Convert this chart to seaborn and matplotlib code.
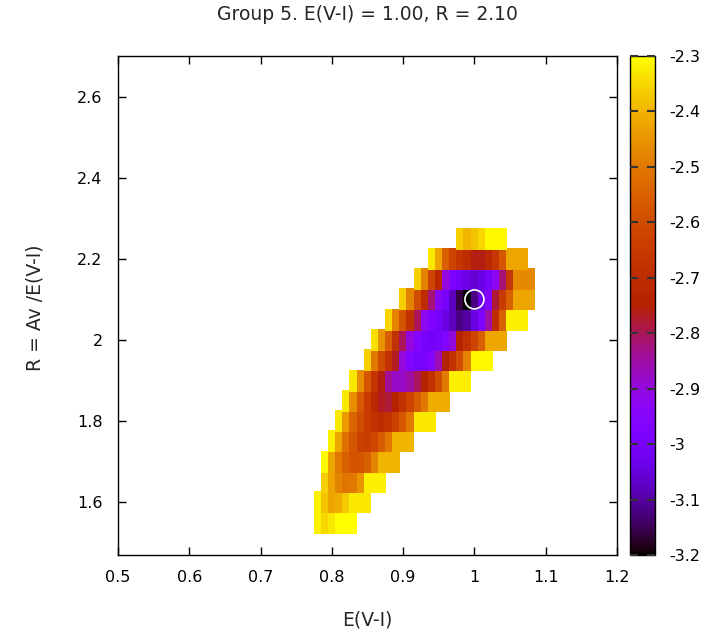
import numpy as np
import pandas as pd
import matplotlib
matplotlib.use("Agg")
import matplotlib.pyplot as plt
import seaborn as sns
from matplotlib.ticker import FuncFormatter
from matplotlib.colors import Normalize
from matplotlib.cm import ScalarMappable

# ---- grid of fitted values: one list per R row, E(V-I) grows by 0.01 along a row ----
r_rows = [1.55, 1.60, 1.65, 1.70, 1.75, 1.80, 1.85, 1.90, 1.95,
          2.00, 2.05, 2.10, 2.15, 2.20, 2.25]
e_first = [0.79, 0.79, 0.80, 0.80, 0.81, 0.82, 0.83, 0.84, 0.86,
           0.87, 0.89, 0.91, 0.93, 0.95, 0.99]
e_step = 0.01

row_155 = [-2.32, -2.35, -2.33, -2.30]
row_160 = [-2.32, -2.38, -2.42, -2.41, -2.37, -2.33]
row_165 = [-2.36, -2.43, -2.48, -2.51, -2.50, -2.45, -2.32]
row_170 = [-2.31, -2.42, -2.50, -2.55, -2.58, -2.58, -2.55, -2.48, -2.40]
row_175 = [-2.32, -2.42, -2.52, -2.58, -2.63, -2.64, -2.61, -2.56, -2.50, -2.40]
row_180 = [-2.33, -2.44, -2.54, -2.60, -2.65, -2.68, -2.70, -2.68, -2.63, -2.57,
           -2.50, -2.33]
row_185 = [-2.33, -2.46, -2.57, -2.65, -2.72, -2.77, -2.78, -2.74, -2.68, -2.62,
           -2.56, -2.50, -2.41]
row_190 = [-2.33, -2.46, -2.58, -2.67, -2.76, -2.84, -2.88, -2.88, -2.85, -2.80,
           -2.74, -2.68, -2.60, -2.50, -2.32]
row_195 = [-2.36, -2.50, -2.60, -2.68, -2.77, -2.90, -2.97, -3.00, -2.99, -2.96,
           -2.86, -2.75, -2.68, -2.60, -2.48, -2.31]
row_200 = [-2.34, -2.45, -2.56, -2.68, -2.80, -2.90, -2.96, -3.00, -3.01, -3.00,
           -2.97, -2.90, -2.74, -2.68, -2.62, -2.55, -2.42]
row_205 = [-2.35, -2.48, -2.58, -2.68, -2.80, -2.92, -2.98, -3.00, -3.04, -3.08,
           -3.12, -3.10, -3.04, -2.98, -2.85, -2.70, -2.55, -2.32]
row_210 = [-2.36, -2.48, -2.60, -2.70, -2.82, -2.94, -3.00, -3.08, -3.16, -3.20,
           -3.12, -3.04, -2.96, -2.78, -2.65, -2.55, -2.42]
row_215 = [-2.36, -2.48, -2.62, -2.72, -2.90, -2.98, -3.01, -3.04, -3.06, -3.04,
           -3.00, -2.93, -2.82, -2.66, -2.47]
row_220 = [-2.33, -2.42, -2.55, -2.62, -2.67, -2.70, -2.76, -2.76, -2.72, -2.66,
           -2.58, -2.42]
row_225 = [-2.36, -2.40, -2.38, -2.35, -2.31]

row_values = [row_155, row_160, row_165, row_170, row_175, row_180, row_185,
              row_190, row_195, row_200, row_205, row_210, row_215, row_220,
              row_225]

best_e = 1.00
best_r = 2.10

x_ticks = [0.5, 0.6, 0.7, 0.8, 0.9, 1.0, 1.1, 1.2]
y_ticks = [1.6, 1.8, 2.0, 2.2, 2.4, 2.6]
cb_ticks = [-3.2, -3.1, -3.0, -2.9, -2.8, -2.7, -2.6, -2.5, -2.4, -2.3]
c_min, c_max = -3.2, -2.3

title = "Group 5. E(V-I) = 1.00, R = 2.10"
x_label = "E(V-I)"
y_label = "R = Av /E(V-I)"

# ---- long table, rows bottom to top, E ascending inside a row ----
records = []
for r, e0, vals in zip(r_rows, e_first, row_values):
    for i, v in enumerate(vals):
        records.append({"E": round(e0 + i * e_step, 3), "R": r, "val": v})
df = pd.DataFrame(records)

sns.set_theme(style="white")
plt.rcParams["font.family"] = ["DejaVu Sans"]
plt.rcParams["axes.edgecolor"] = "black"
plt.rcParams["axes.linewidth"] = 1.0
plt.rcParams["axes.axisbelow"] = False

W, H, DPI = 717, 635, 100
fig = plt.figure(figsize=(W / DPI, H / DPI), dpi=DPI)

ax_l, ax_r, ax_t, ax_b = 118, 617, 56, 555
ax = fig.add_axes([ax_l / W, 1 - ax_b / H, (ax_r - ax_l) / W, (ax_b - ax_t) / H])

cmap = plt.get_cmap("gnuplot")
norm = Normalize(vmin=c_min, vmax=c_max)

side_pt = 22 * 72 / DPI
sns.scatterplot(data=df, x="E", y="R", hue="val", palette=cmap, hue_norm=norm,
                marker="s", s=side_pt ** 2, linewidth=0, legend=False, ax=ax,
                zorder=2)

# best-fit marker
sns.scatterplot(x=[best_e], y=[best_r], marker="o", s=(19 * 72 / DPI) ** 2,
                facecolor="none", edgecolor="white", linewidth=1.2,
                legend=False, ax=ax, zorder=3)

ax.set_xlim(0.5, 1.2)
ax.set_ylim(1.47, 2.7)
ax.set_xticks(x_ticks)
ax.set_yticks(y_ticks)
fmt = FuncFormatter(lambda v, p: "%g" % round(v, 3))
ax.xaxis.set_major_formatter(fmt)
ax.yaxis.set_major_formatter(fmt)
ax.tick_params(direction="in", length=6, width=1, top=True, right=True,
               bottom=True, left=True, labelsize=11.5, colors="black")
ax.tick_params(axis="x", pad=11)
ax.tick_params(axis="y", pad=11)
ax.set_xlabel("")
ax.set_ylabel("")
for s in ax.spines.values():
    s.set_visible(True)
    s.set_color("black")

txt_size = 13.5
fig.text(367 / W, 1 - 15 / H, title, ha="center", va="center", fontsize=txt_size)
fig.text(367 / W, 1 - 620 / H, x_label, ha="center", va="center", fontsize=txt_size)
fig.text(35 / W, 1 - 308 / H, y_label, ha="center", va="center", rotation=90,
         fontsize=txt_size)

# colour box
cb_l, cb_r = 630, 655
cax = fig.add_axes([cb_l / W, 1 - ax_b / H, (cb_r - cb_l) / W, (ax_b - ax_t) / H])
cb = fig.colorbar(ScalarMappable(norm=norm, cmap=cmap), cax=cax)
cb.set_ticks(cb_ticks)
cb.ax.set_axisbelow(False)
cb.ax.yaxis.set_major_formatter(fmt)
cb.ax.tick_params(direction="in", length=6, width=1.5, left=True, right=True,
                  labelsize=11.5, colors="#333333", labelcolor="black", pad=10)
cb.ax.tick_params(which="minor", length=0)
cb.outline.set_edgecolor("black")
cb.outline.set_linewidth(1.0)

fig.savefig("out.png", dpi=DPI, facecolor="white")
